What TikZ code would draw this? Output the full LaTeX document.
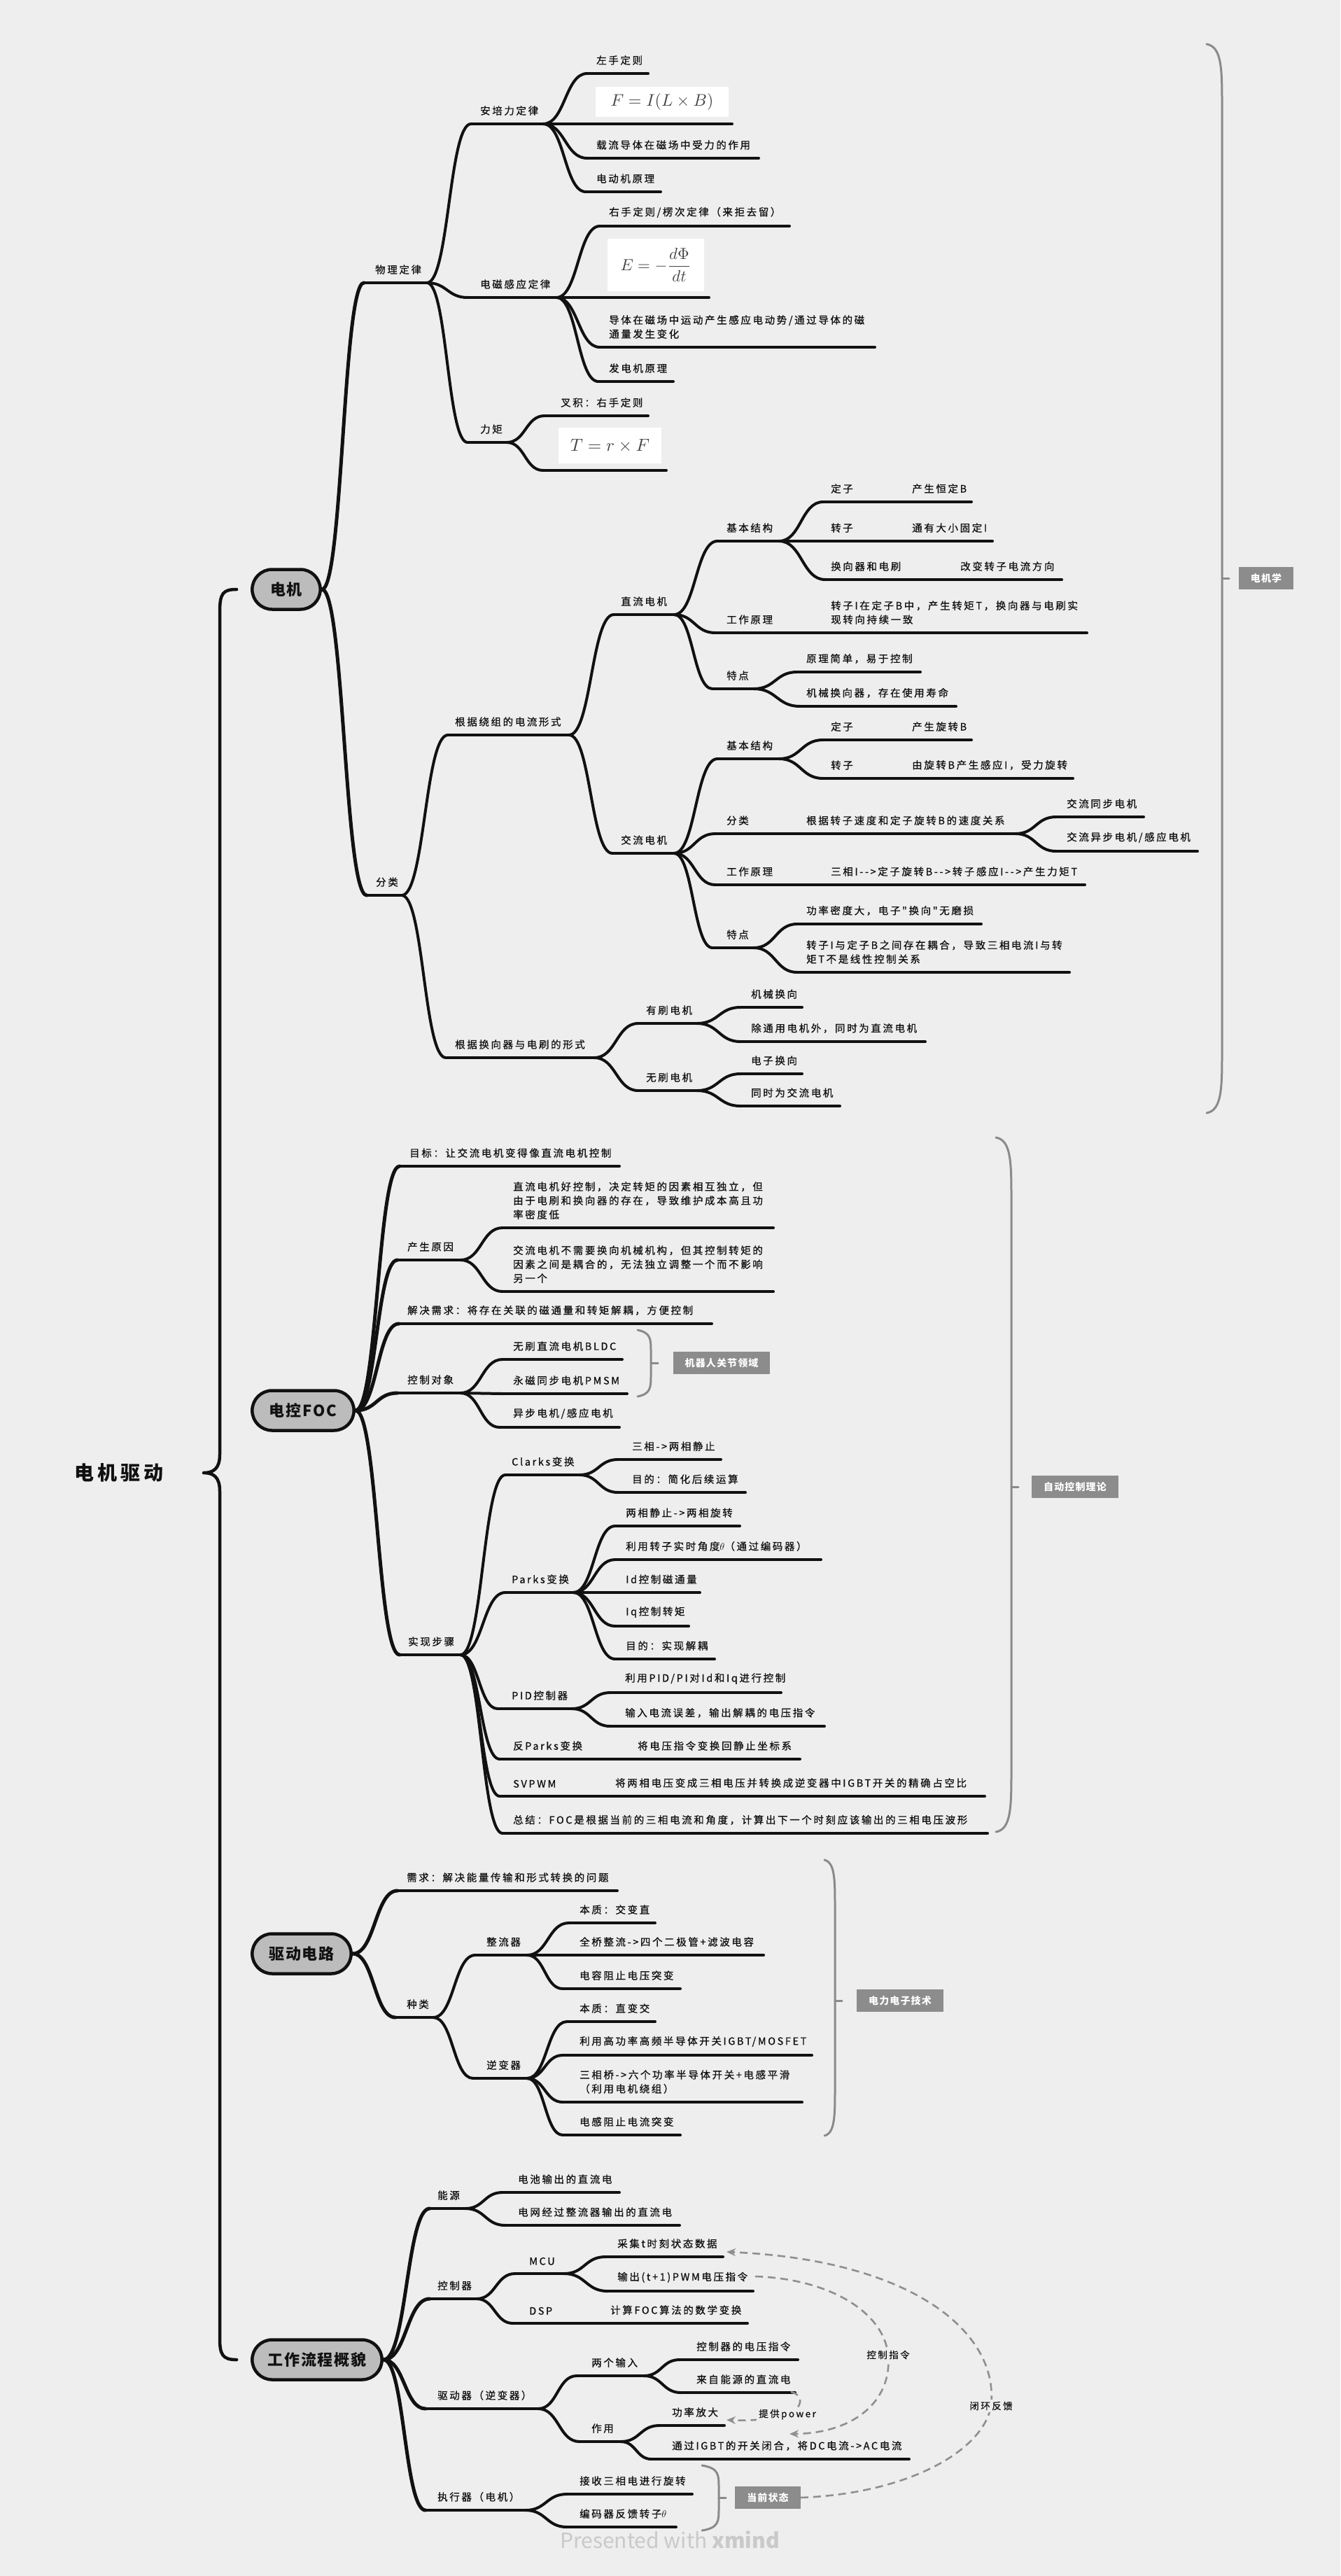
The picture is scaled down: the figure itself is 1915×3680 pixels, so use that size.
\documentclass[tikz,border=0pt]{standalone}
\usepackage{fontspec}
\usepackage{graphicx}
\usetikzlibrary{calc,shapes.misc,arrows.meta}
\newfontfamily\topicfam{Noto Sans CJK SC}[LetterSpace=18,Ligatures=TeXOff,FakeBold=0.8]
\newfontfamily\rootfam{Noto Sans CJK SC}[LetterSpace=8,Ligatures=TeXOff]
\newfontfamily\wmfam{Noto Sans CJK SC}[Ligatures=TeXOff]
\newfontfamily\mainfam{Noto Sans CJK SC}[LetterSpace=18]
\newcommand\tfont{\topicfam\fontsize{14.5}{20}\selectfont}
\newcommand\rlfont{\topicfam\fontsize{13.5}{16}\selectfont}
\newcommand\lbfont{\rootfam\bfseries\fontsize{14}{16}\selectfont}
\definecolor{bgc}{HTML}{EEEEEE}
\definecolor{rootgray}{HTML}{BCBCBC}
\definecolor{brgray}{HTML}{8A8A8A}
\definecolor{labgray}{HTML}{8C8C8C}
\definecolor{relgray}{HTML}{8F8F8F}
\definecolor{wmgray}{HTML}{C9C9C9}
\definecolor{inkc}{HTML}{111111}
\definecolor{mathc}{HTML}{444444}
\tikzset{
  tx/.style={inner sep=0pt, anchor=south west, align=left, font=\tfont, text=inkc},
  ul/.style={line width=4pt, line cap=round, draw=inkc},
  br/.style={line width=4pt, line cap=round, draw=inkc},
  brr/.style={line width=5pt, line cap=round, draw=inkc},
  root/.style={rounded rectangle, draw=inkc, line width=4.5pt, fill=rootgray,
    font=\rootfam\bfseries\fontsize{22}{26}\selectfont, minimum height=57pt, text=inkc},
  fbox/.style={fill=white, inner sep=0pt, text=mathc},
  gline/.style={draw=brgray, line width=3pt, line cap=round},
  glabel/.style={fill=labgray, text=white, font=\lbfont, inner xsep=17pt, inner ysep=9pt},
  rel/.style={draw=relgray, line width=2.6pt, dash pattern=on 11pt off 7pt,
    -{Stealth[length=13pt,width=11pt]}},
  rlab/.style={fill=bgc, inner sep=3pt, font=\rlfont, text=inkc},
  bracestyle/.style={draw=inkc, line width=4.5pt, line cap=round, line join=round}
}
% topic: name, x1, x2, y(underline), text x, text
\newcommand\tp[6]{%
  \coordinate (#1-s) at (#2,#4);
  \coordinate (#1-e) at (#3,#4);
  \draw[ul] (#1-s) -- (#1-e);
  \node[tx] (#1) at (#5,#4-12) {#6};
}
\newcommand\ulonly[4]{%
  \coordinate (#1-s) at (#2,#4);
  \coordinate (#1-e) at (#3,#4);
  \draw[ul] (#1-s) -- (#1-e);
}
\newcommand\cn[2]{\draw[br] let \p1=(#1-e), \p2=(#2-s) in
  (\p1) .. controls ({0.5*\x1+0.5*\x2},\y1) and ({0.5*\x1+0.5*\x2},\y2) .. (\p2);}
\newcommand\cnr[2]{\draw[brr] let \p1=(#1.east), \p2=(#2-s) in
  (\p1) .. controls ({0.5*\x1+0.5*\x2},\y1) and ({0.5*\x1+0.5*\x2},\y2) .. (\p2);}
% gray summary bracket: x0, xv, y0, y1, ytick, hook
\newcommand\gbk[6]{%
  \draw[gline] (#1,#3) .. controls (#2,#3+4) and (#2,#3+#6*0.4) .. (#2,#3+#6)
    -- (#2,#4-#6) .. controls (#2,#4-#6*0.4) and (#2,#4-4) .. (#1,#4);
  \draw[gline] (#2,#5) -- (#2+10,#5);
}

\begin{document}
\begin{tikzpicture}[x=1pt,y=-1pt]
\useasboundingbox (0,0) rectangle (1915,3680);
\fill[bgc] (0,0) rectangle (1915,3680);

% ---------- summary brackets and labels ----------
\gbk{1724}{1746}{63}{1590}{826}{90}
\node[glabel] (lbA) at (1809,826) {电机学};
\gbk{911}{930}{1900}{1995}{1947}{32}
\node[glabel] (lbB) at (1031,1947) {机器人关节领域};
\gbk{1423}{1445}{1625}{2617}{2124}{90}
\node[glabel] (lbC) at (1536,2124) {自动控制理论};
\gbk{1178}{1193}{2657}{3051}{2858}{70}
\node[glabel] (lbD) at (1286,2858) {电力电子技术};
\gbk{1003}{1027}{3522}{3615}{3568}{32}
\node[glabel] (lbE) at (1097,3568) {当前状态};

% ---------- root nodes ----------
\node[root, minimum width=104pt] (dj) at (409,842) {电机};
\node[root, minimum width=152pt] (foc) at (433,2015) {电控FOC};
\node[root, minimum width=148pt] (qd) at (431,2791) {驱动电路};
\node[root, minimum width=192pt] (lc) at (453,3371) {工作流程概貌};
\node[font=\mainfam\bfseries\fontsize{28}{32}\selectfont, text=inkc] (main) at (170,2104) {电机驱动};

\draw[bracestyle] ([xshift=-20pt]dj.west) .. controls (318,842) and (314,848) .. (314,875)
  -- (314,2078) .. controls (314,2098) and (305,2104) .. (291,2104)
  .. controls (305,2104) and (314,2110) .. (314,2130)
  -- (314,3340) .. controls (314,3364) and (318,3371) .. ([xshift=-20pt]lc.west);

% ---------- 电机 ----------
\tp{wl}{520}{610}{404}{536}{物理定律}
\tp{aq}{673}{776}{177}{686}{安培力定律}
\tp{aqa}{839}{926}{105}{852}{左手定则}
\ulonly{aqb}{847}{1046}{177}
\node[fbox, minimum width=190pt, minimum height=43pt] (fF) at (946,145.5) {\scalebox{2.4}{$F = I(L\times B)$}};
\tp{aqc}{839}{1084}{226}{852}{载流导体在磁场中受力的作用}
\tp{aqd}{837}{944}{274}{852}{电动机原理}
\tp{em}{668}{795}{425}{686}{电磁感应定律}
\tp{ema}{857}{1128}{323}{870}{右手定则/楞次定律（来拒去留）}
\ulonly{emb}{857}{1013}{425}
\node[fbox, minimum width=138pt, minimum height=75pt] (fE) at (937,378.5) {\scalebox{2.3}{$\displaystyle E=-\frac{d\Phi}{dt}$}};
\tp{emc}{857}{1250}{496}{870}{导体在磁场中运动产生感应电动势/通过导体的磁\\通量发生变化}
\tp{emd}{855}{962}{545}{870}{发电机原理}
\tp{lj}{668}{724}{632}{686}{力矩}
\tp{lja}{778}{926}{594}{801}{叉积：右手定则}
\ulonly{ljb}{776}{952}{672}
\node[fbox, minimum width=147pt, minimum height=51pt] (fT) at (871.5,636.5) {\scalebox{2.5}{$T=r\times F$}};

\tp{fl}{524}{574}{1279}{537}{分类}
\tp{rz}{640}{813}{1050}{650}{根据绕组的电流形式}
\tp{hx}{637}{849}{1511}{650}{根据换向器与电刷的形式}
\tp{zl}{877}{963}{878}{887}{直流电机}
\tp{jl}{875}{963}{1219}{887}{交流电机}
\tp{zj}{1025}{1113}{773}{1038}{基本结构}
\tp{zja}{1176}{1227}{717}{1187}{定子}
\tp{zjaa}{1229}{1388}{717}{1303}{产生恒定B}
\tp{zjb}{1176}{1227}{773}{1187}{转子}
\tp{zjbb}{1229}{1418}{773}{1303}{通有大小固定I}
\tp{zjc}{1179}{1297}{828}{1187}{换向器和电刷}
\tp{zjcc}{1300}{1517}{828}{1372}{改变转子电流方向}
\tp{zg}{1022}{1113}{904}{1038}{工作原理}
\tp{zgg}{1115}{1553}{904}{1187}{转子I在定子B中，产生转矩T，换向器与电刷实\\现转向持续一致}
\tp{zt}{1018}{1077}{984}{1038}{特点}
\tp{zta}{1139}{1315}{960}{1152}{原理简单，易于控制}
\tp{ztb}{1143}{1366}{1009}{1152}{机械换向器，存在使用寿命}
\tp{jj}{1025}{1113}{1084}{1038}{基本结构}
\tp{jja}{1176}{1227}{1057}{1187}{定子}
\tp{jjaa}{1229}{1388}{1057}{1303}{产生旋转B}
\tp{jjb}{1176}{1227}{1112}{1187}{转子}
\tp{jjbb}{1229}{1533}{1112}{1303}{由旋转B产生感应I，受力旋转}
\tp{jf}{1022}{1077}{1191}{1038}{分类}
\tp{jff}{1079}{1451}{1191}{1152}{根据转子速度和定子旋转B的速度关系}
\tp{jffa}{1509}{1634}{1167}{1524}{交流同步电机}
\tp{jffb}{1509}{1711}{1216}{1524}{交流异步电机/感应电机}
\tp{jg}{1022}{1113}{1264}{1038}{工作原理}
\tp{jgg}{1115}{1550}{1264}{1187}{三相I-->定子旋转B-->转子感应I-->产生力矩T}
\tp{jt}{1018}{1077}{1354}{1038}{特点}
\tp{jta}{1139}{1402}{1320}{1152}{功率密度大，电子"换向"无磨损}
\tp{jtb}{1139}{1528}{1389}{1152}{转子I与定子B之间存在耦合，导致三相电流I与转\\矩T不是线性控制关系}
\tp{ys}{912}{996}{1462}{923}{有刷电机}
\tp{ysa}{1058}{1146}{1439}{1073}{机械换向}
\tp{ysb}{1058}{1322}{1488}{1073}{除通用电机外，同时为直流电机}
\tp{ws}{912}{996}{1558}{923}{无刷电机}
\tp{wsa}{1058}{1146}{1534}{1073}{电子换向}
\tp{wsb}{1058}{1200}{1580}{1073}{同时为交流电机}

% ---------- 电控FOC ----------
\tp{mb}{571}{885}{1666}{585}{目标：让交流电机变得像直流电机控制}
\tp{cy}{568}{658}{1800}{582}{产生原因}
\tp{cya}{718}{1105}{1754}{733}{直流电机好控制，决定转矩的因素相互独立，但\\由于电刷和换向器的存在，导致维护成本高且功\\率密度低}
\tp{cyb}{718}{1105}{1845}{733}{交流电机不需要换向机械机构，但其控制转矩的\\因素之间是耦合的，无法独立调整一个而不影响\\另一个}
\tp{jx}{570}{1017}{1891}{582}{解决需求：将存在关联的磁通量和转矩解耦，方便控制}
\tp{kz}{568}{658}{1990}{582}{控制对象}
\tp{kza}{718}{889}{1942}{733}{无刷直流电机BLDC}
\tp{kzb}{718}{896}{1991}{733}{永磁同步电机PMSM}
\tp{kzc}{714}{885}{2039}{733}{异步电机/感应电机}
\tp{sx}{571}{658}{2364}{583}{实现步骤}
\tp{ck}{722}{828}{2107}{731}{Clarks变换}
\tp{cka}{883}{1030}{2085}{903}{三相->两相静止}
\tp{ckb}{883}{1065}{2132}{903}{目的：简化后续运算}
\tp{pk}{722}{819}{2275}{731}{Parks变换}
\tp{pk1}{879}{1057}{2180}{894}{两相静止->两相旋转}
\tp{pk2}{879}{1173}{2228}{894}{利用转子实时角度$\theta$（通过编码器）}
\tp{pk3}{879}{1000}{2275}{894}{Id控制磁通量}
\tp{pk4}{879}{984}{2323}{894}{Iq控制转矩}
\tp{pk5}{879}{1021}{2370}{894}{目的：实现解耦}
\tp{pd}{711}{817}{2441}{731}{PID控制器}
\tp{pda}{872}{1116}{2418}{893}{利用PID/PI对Id和Iq进行控制}
\tp{pdb}{872}{1178}{2466}{893}{输入电流误差，输出解耦的电压指令}
\tp{fp}{714}{835}{2513}{733}{反Parks变换}
\tp{fpa}{838}{1143}{2513}{911}{将电压指令变换回静止坐标系}
\tp{sv}{714}{805}{2566}{733}{SVPWM}
\tp{sva}{807}{1407}{2566}{879}{将两相电压变成三相电压并转换成逆变器中IGBT开关的精确占空比}
\tp{zjie}{718}{1411}{2619}{733}{总结：FOC是根据当前的三相电流和角度，计算出下一个时刻应该输出的三相电压波形}

% ---------- 驱动电路 ----------
\tp{xq}{568}{882}{2701}{581}{需求：解决能量传输和形式转换的问题}
\tp{zl2}{565}{619}{2882}{581}{种类}
\tp{zlq}{679}{753}{2793}{695}{整流器}
\tp{zlqa}{813}{936}{2747}{828}{本质：交变直}
\tp{zlqb}{804}{1091}{2793}{828}{全桥整流->四个二极管+滤波电容}
\tp{zlqc}{804}{972}{2841}{828}{电容阻止电压突变}
\tp{nb}{676}{753}{2969}{695}{逆变器}
\tp{nba}{810}{936}{2888}{828}{本质：直变交}
\tp{nbb}{804}{1160}{2936}{828}{利用高功率高频半导体开关IGBT/MOSFET}
\tp{nbc}{804}{1146}{3003}{828}{三相桥->六个功率半导体开关+电感平滑\\（利用电机绕组）}
\tp{nbd}{804}{972}{3050}{828}{电感阻止电流突变}

% ---------- 工作流程概貌 ----------
\tp{ny}{614}{665}{3155}{625}{能源}
\tp{nya}{718}{885}{3132}{740}{电池输出的直流电}
\tp{nyb}{722}{971}{3179}{740}{电网经过整流器输出的直流电}
\tp{kq}{614}{681}{3284}{625}{控制器}
\tp{mc}{736}{806}{3248}{756}{MCU}
\tp{mca}{865}{1033}{3224}{882}{采集t时刻状态数据}
\tp{mcb}{868}{1076}{3273}{882}{输出(t+1)PWM电压指令}
\tp{ds}{733}{795}{3319}{756}{DSP}
\tp{dsa}{799}{1068}{3319}{872}{计算FOC算法的数学变换}
\tp{qdq}{608}{769}{3441}{625}{驱动器（逆变器）}
\tp{lg}{824}{920}{3394}{845}{两个输入}
\tp{lga}{971}{1140}{3371}{995}{控制器的电压指令}
\tp{lgb}{973}{1136}{3418}{995}{来自能源的直流电}
\tp{zy}{828}{887}{3488}{845}{作用}
\tp{zya}{942}{1035}{3465}{960}{功率放大}
\tp{zyb}{931}{1299}{3513}{960}{通过IGBT的开关闭合，将DC电流->AC电流}
\tp{zx}{608}{751}{3586}{625}{执行器（电机）}
\tp{zxa}{810}{989}{3563}{828}{接收三相电进行旋转}
\tp{zxb}{810}{966}{3610}{828}{编码器反馈转子$\theta$}

% ---------- connectors ----------
\cnr{dj}{wl} \cnr{dj}{fl}
\cn{wl}{aq} \cn{wl}{em} \cn{wl}{lj}
\cn{aq}{aqa} \cn{aq}{aqb} \cn{aq}{aqc} \cn{aq}{aqd}
\cn{em}{ema} \cn{em}{emb} \cn{em}{emc} \cn{em}{emd}
\cn{lj}{lja} \cn{lj}{ljb}
\cn{fl}{rz} \cn{fl}{hx}
\cn{rz}{zl} \cn{rz}{jl}
\cn{zl}{zj} \cn{zl}{zg} \cn{zl}{zt}
\cn{zj}{zja} \cn{zj}{zjb} \cn{zj}{zjc}
\cn{zja}{zjaa} \cn{zjb}{zjbb} \cn{zjc}{zjcc}
\cn{zg}{zgg}
\cn{zt}{zta} \cn{zt}{ztb}
\cn{jl}{jj} \cn{jl}{jf} \cn{jl}{jg} \cn{jl}{jt}
\cn{jj}{jja} \cn{jj}{jjb} \cn{jja}{jjaa} \cn{jjb}{jjbb}
\cn{jf}{jff} \cn{jff}{jffa} \cn{jff}{jffb}
\cn{jg}{jgg}
\cn{jt}{jta} \cn{jt}{jtb}
\cn{hx}{ys} \cn{hx}{ws}
\cn{ys}{ysa} \cn{ys}{ysb} \cn{ws}{wsa} \cn{ws}{wsb}

\cnr{foc}{mb} \cnr{foc}{cy} \cnr{foc}{jx} \cnr{foc}{kz} \cnr{foc}{sx}
\cn{cy}{cya} \cn{cy}{cyb}
\cn{kz}{kza} \cn{kz}{kzb} \cn{kz}{kzc}
\cn{sx}{ck} \cn{sx}{pk} \cn{sx}{pd} \cn{sx}{fp} \cn{sx}{sv} \cn{sx}{zjie}
\cn{ck}{cka} \cn{ck}{ckb}
\cn{pk}{pk1} \cn{pk}{pk2} \cn{pk}{pk3} \cn{pk}{pk4} \cn{pk}{pk5}
\cn{pd}{pda} \cn{pd}{pdb}
\cn{fp}{fpa} \cn{sv}{sva}

\cnr{qd}{xq} \cnr{qd}{zl2}
\cn{zl2}{zlq} \cn{zl2}{nb}
\cn{zlq}{zlqa} \cn{zlq}{zlqb} \cn{zlq}{zlqc}
\cn{nb}{nba} \cn{nb}{nbb} \cn{nb}{nbc} \cn{nb}{nbd}

\cnr{lc}{ny} \cnr{lc}{kq} \cnr{lc}{qdq} \cnr{lc}{zx}
\cn{ny}{nya} \cn{ny}{nyb}
\cn{kq}{mc} \cn{kq}{ds}
\cn{mc}{mca} \cn{mc}{mcb} \cn{ds}{dsa}
\cn{qdq}{lg} \cn{qdq}{zy}
\cn{lg}{lga} \cn{lg}{lgb}
\cn{zy}{zya} \cn{zy}{zyb}
\cn{zx}{zxa} \cn{zx}{zxb}

% ---------- relationships ----------
\coordinate (r1s) at (1079,3252);
\coordinate (r1e) at (1128,3477);
\coordinate (r2s) at (1130,3417);
\coordinate (r2e) at (1038,3457);
\coordinate (r3s) at (lbE.east);
\coordinate (r3e) at (1038,3217);
\coordinate (l1) at (1269,3364);
\coordinate (l2) at (1125,3449);
\coordinate (l3) at (1416,3437);
\draw[rel] (r1s) .. controls (1180,3255) and (1262,3300) .. (l1)
  .. controls (1275,3430) and (1220,3476) .. (r1e);
\draw[rel] (r2s) .. controls (1147,3421) and (1150,3438) .. (l2)
  .. controls (1095,3458) and (1065,3458) .. (r2e);
\draw[rel] (r3s) .. controls (1300,3562) and (1405,3500) .. (l3)
  .. controls (1428,3330) and (1300,3228) .. (r3e);
\node[rlab] (rl1) at (l1) {控制指令};
\node[rlab] (rl2) at (l2) {提供power};
\node[rlab] (rl3) at (l3) {闭环反馈};

% ---------- watermark ----------
\node[font=\wmfam\fontsize{30}{34}\selectfont, text=wmgray] (wm) at (957,3628) {Presented with {\bfseries xmind}};
\end{tikzpicture}
\end{document}
